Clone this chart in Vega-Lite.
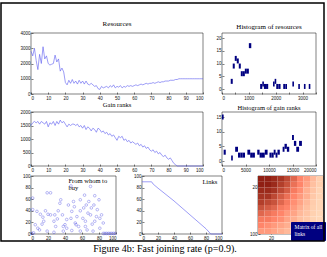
{
"$schema": "https://vega.github.io/schema/vega-lite/v6.json",
"background": "white",
"padding": {"left": 1, "top": 3, "right": 1, "bottom": 2},
"title": {"text": "Figure 4b: Fast joining rate (p=0.9).", "orient": "bottom", "font": "Liberation Serif", "fontSize": 10, "fontWeight": "normal", "color": "#000", "offset": 2, "anchor": "middle"},
"spacing": 0,
"resolve": {"scale": {"stroke": "shared", "shape": "independent"}, "legend": {"stroke": "shared", "shape": "independent"}},
"vconcat": [
 {"columns": 2, "bounds": "flush", "spacing": {"row": 18, "column": 19},
  "resolve": {"scale": {"stroke": "shared"}, "legend": {"stroke": "shared"}},
  "concat": [
   {"width": 172, "height": 61, "title": {"text": "Resources", "offset": 3},
    "data": {"values": [
{"r":0,"v":2800},{"r":1,"v":2500},{"r":2,"v":3000},{"r":3,"v":2200},{"r":4,"v":1600},{"r":5,"v":2600},{"r":6,"v":2000},{"r":7,"v":3100},{"r":8,"v":2300},{"r":9,"v":2500},
{"r":10,"v":2000},{"r":11,"v":1900},{"r":12,"v":1950},{"r":13,"v":2000},{"r":14,"v":2550},{"r":15,"v":2100},{"r":16,"v":2300},{"r":17,"v":1500},{"r":18,"v":1700},{"r":19,"v":1450},
{"r":20,"v":750},{"r":21,"v":600},{"r":22,"v":900},{"r":23,"v":700},{"r":24,"v":950},{"r":25,"v":700},{"r":26,"v":850},{"r":27,"v":650},{"r":28,"v":900},{"r":29,"v":700},
{"r":30,"v":850},{"r":31,"v":650},{"r":32,"v":850},{"r":33,"v":650},{"r":34,"v":600},{"r":35,"v":700},{"r":36,"v":600},{"r":37,"v":500},{"r":38,"v":550},{"r":39,"v":350},
{"r":40,"v":300},{"r":41,"v":500},{"r":42,"v":400},{"r":43,"v":450},{"r":44,"v":500},{"r":45,"v":400},{"r":46,"v":550},{"r":47,"v":450},{"r":48,"v":600},{"r":49,"v":400},
{"r":50,"v":500},{"r":51,"v":450},{"r":52,"v":550},{"r":53,"v":400},{"r":54,"v":500},{"r":55,"v":450},{"r":56,"v":550},{"r":57,"v":500},{"r":58,"v":550},{"r":59,"v":500},
{"r":60,"v":550},{"r":61,"v":600},{"r":62,"v":550},{"r":63,"v":600},{"r":64,"v":650},{"r":65,"v":600},{"r":66,"v":650},{"r":67,"v":700},{"r":68,"v":650},{"r":69,"v":700},
{"r":70,"v":700},{"r":71,"v":750},{"r":72,"v":700},{"r":73,"v":750},{"r":74,"v":800},{"r":75,"v":750},{"r":76,"v":800},{"r":77,"v":800},{"r":78,"v":850},{"r":79,"v":850},
{"r":80,"v":850},{"r":81,"v":900},{"r":82,"v":900},{"r":83,"v":900},{"r":84,"v":950},{"r":85,"v":950},{"r":86,"v":1000},{"r":87,"v":1000},{"r":88,"v":1000},{"r":89,"v":1000},
{"r":90,"v":1000},{"r":91,"v":1000},{"r":92,"v":1000},{"r":93,"v":1000},{"r":94,"v":1000},{"r":95,"v":1000},{"r":96,"v":1000},{"r":97,"v":1000},{"r":98,"v":1000},{"r":99,"v":1000},{"r":100,"v":1000}
    ]},
    "encoding": {
     "x": {"field": "r", "type": "quantitative", "title": null, "scale": {"domain": [0, 100], "nice": false}, "axis": {"values": [0,10,20,30,40,50,60,70,80,90,100]}},
     "y": {"field": "v", "type": "quantitative", "title": null, "scale": {"domain": [0, 4000], "nice": false}, "axis": {"values": [0,1000,2000,3000,4000], "format": "d"}}
    },
    "layer": [
     {"mark": {"type": "line", "color": "#5a5af0", "strokeWidth": 0.6}},
     {"mark": {"type": "point", "opacity": 0},
      "encoding": {"stroke": {"field": "v", "type": "quantitative", "scale": {"range": ["rgba(0,0,0,0)", "rgba(0,0,0,0)"]},
       "legend": {"title": null, "orient": "none", "legendX": -30, "legendY": -30, "direction": "vertical", "labels": false, "labelOpacity": 0, "labelFontSize": 1, "ticks": false, "padding": 0, "gradientLength": 238, "gradientThickness": 323, "gradientStrokeColor": "#000", "gradientStrokeWidth": 1.5}}}}
    ]
   },
   {"width": 94, "height": 61, "title": {"text": "Histogram of resources", "offset": 3},
    "data": {"values": [
{"a":325,"b":400,"n":3},{"a":400,"b":475,"n":9},{"a":475,"b":550,"n":12},{"a":550,"b":625,"n":11},{"a":625,"b":700,"n":9},{"a":700,"b":775,"n":6},{"a":775,"b":850,"n":6},{"a":850,"b":925,"n":7},{"a":925,"b":1000,"n":7},{"a":1000,"b":1090,"n":17},
{"a":1420,"b":1500,"n":1},{"a":1500,"b":1560,"n":2},{"a":1560,"b":1640,"n":1},{"a":1640,"b":1720,"n":1},{"a":1900,"b":1960,"n":2},{"a":1960,"b":2020,"n":3},{"a":2020,"b":2100,"n":1},{"a":2100,"b":2180,"n":1},{"a":2280,"b":2360,"n":1},{"a":2360,"b":2420,"n":1},{"a":2620,"b":2680,"n":2},{"a":2840,"b":2900,"n":1},{"a":3050,"b":3110,"n":1},{"a":3230,"b":3290,"n":1}
    ]},
    "mark": {"type": "bar", "color": "#000080"},
    "encoding": {
     "x": {"field": "a", "type": "quantitative", "title": null, "scale": {"domain": [0, 3500], "nice": false}, "axis": {"values": [0,500,1000,1500,2000,2500,3000,3500], "format": "d"}},
     "x2": {"field": "b"},
     "y": {"field": "n", "type": "quantitative", "title": null, "scale": {"domain": [0, 20], "nice": false}, "axis": {"values": [0,5,10,15,20]}}
    }
   },
   {"width": 172, "height": 54, "title": {"text": "Gain ranks", "offset": 1, "fontSize": 6.5},
    "data": {"values": [
{"r":0,"v":1500},{"r":1,"v":1600},{"r":2,"v":1650},{"r":3,"v":1600},{"r":4,"v":1650},{"r":5,"v":1550},{"r":6,"v":1650},{"r":7,"v":1600},{"r":8,"v":1550},{"r":9,"v":1650},
{"r":10,"v":1450},{"r":11,"v":1600},{"r":12,"v":1550},{"r":13,"v":1650},{"r":14,"v":1500},{"r":15,"v":1650},{"r":16,"v":1550},{"r":17,"v":1700},{"r":18,"v":1600},{"r":19,"v":1650},
{"r":20,"v":1550},{"r":21,"v":1450},{"r":22,"v":1550},{"r":23,"v":1500},{"r":24,"v":1550},{"r":25,"v":1550},{"r":26,"v":1500},{"r":27,"v":1550},{"r":28,"v":1450},{"r":29,"v":1500},
{"r":30,"v":1400},{"r":31,"v":1500},{"r":32,"v":1350},{"r":33,"v":1450},{"r":34,"v":1400},{"r":35,"v":1300},{"r":36,"v":1400},{"r":37,"v":1350},{"r":38,"v":1250},{"r":39,"v":1400},
{"r":40,"v":1350},{"r":41,"v":1250},{"r":42,"v":1300},{"r":43,"v":1200},{"r":44,"v":1250},{"r":45,"v":1150},{"r":46,"v":1200},{"r":47,"v":1100},{"r":48,"v":1150},{"r":49,"v":1050},
{"r":50,"v":950},{"r":51,"v":1100},{"r":52,"v":1050},{"r":53,"v":1100},{"r":54,"v":950},{"r":55,"v":1000},{"r":56,"v":900},{"r":57,"v":950},{"r":58,"v":850},{"r":59,"v":900},
{"r":60,"v":850},{"r":61,"v":800},{"r":62,"v":850},{"r":63,"v":750},{"r":64,"v":800},{"r":65,"v":700},{"r":66,"v":750},{"r":67,"v":650},{"r":68,"v":700},{"r":69,"v":600},
{"r":70,"v":550},{"r":71,"v":600},{"r":72,"v":500},{"r":73,"v":550},{"r":74,"v":450},{"r":75,"v":500},{"r":76,"v":400},{"r":77,"v":350},{"r":78,"v":400},{"r":79,"v":300},
{"r":80,"v":250},{"r":81,"v":300},{"r":82,"v":200},{"r":83,"v":100},{"r":84,"v":50},{"r":85,"v":0},{"r":86,"v":0},{"r":87,"v":0},{"r":88,"v":0},{"r":89,"v":0},
{"r":90,"v":0},{"r":91,"v":0},{"r":92,"v":0},{"r":93,"v":0},{"r":94,"v":0},{"r":95,"v":0},{"r":96,"v":0},{"r":97,"v":0},{"r":98,"v":0},{"r":99,"v":0},{"r":100,"v":0}
    ]},
    "mark": {"type": "line", "color": "#5a5af0", "strokeWidth": 0.6},
    "encoding": {
     "x": {"field": "r", "type": "quantitative", "title": null, "scale": {"domain": [0, 100], "nice": false}, "axis": {"values": [0,10,20,30,40,50,60,70,80,90,100]}},
     "y": {"field": "v", "type": "quantitative", "title": null, "scale": {"domain": [0, 2000], "nice": false}, "axis": {"values": [0,500,1000,1500,2000], "format": "d"}}
    }
   },
   {"width": 94, "height": 54, "title": {"text": "Histogram of gain ranks", "offset": 1, "fontSize": 6.5},
    "data": {"values": [
{"a":0,"b":350,"n":15},{"a":350,"b":800,"n":3},{"a":1950,"b":2300,"n":1},{"a":2800,"b":3400,"n":4},{"a":3400,"b":3900,"n":2},{"a":3900,"b":4400,"n":2},{"a":4400,"b":4900,"n":2},
{"a":5400,"b":6000,"n":3},{"a":6000,"b":6400,"n":2},{"a":6400,"b":7000,"n":2},{"a":7500,"b":8000,"n":3},{"a":8000,"b":8500,"n":2},{"a":8500,"b":9100,"n":2},{"a":9100,"b":9700,"n":3},
{"a":10100,"b":10500,"n":2},{"a":10500,"b":11000,"n":2},{"a":11000,"b":11400,"n":3},{"a":11400,"b":11800,"n":2},{"a":11800,"b":12300,"n":3},{"a":12900,"b":13300,"n":4},{"a":13300,"b":13800,"n":5},
{"a":13800,"b":14300,"n":4},{"a":14900,"b":15300,"n":8},{"a":15300,"b":15800,"n":6},{"a":15800,"b":16400,"n":4},{"a":16400,"b":17000,"n":6}
    ]},
    "mark": {"type": "bar", "color": "#000080"},
    "encoding": {
     "x": {"field": "a", "type": "quantitative", "title": null, "scale": {"domain": [0, 20000], "nice": false}, "axis": {"values": [0,5000,10000,15000,20000], "format": "d"}},
     "x2": {"field": "b"},
     "y": {"field": "n", "type": "quantitative", "title": null, "scale": {"domain": [0, 15], "nice": false}, "axis": {"values": [0,5,10,15]}}
    }
   }
  ]
 },
 {"spacing": 25,
  "resolve": {"scale": {"shape": "independent"}, "legend": {"shape": "independent"}},
  "hconcat": [
  {"bounds": "flush", "spacing": 26, "hconcat": [
   {"width": 85, "height": 58,
    "title": {"text": ["From whom to", "buy"], "anchor": "start", "align": "left", "dx": 46, "offset": -18, "fontSize": 6.5, "lineHeight": 7},
    "data": {"values": [
{"x":2,"y":42},{"x":2,"y":62},{"x":7,"y":39},{"x":11,"y":34},{"x":14,"y":29},{"x":17,"y":40},{"x":19,"y":71},{"x":23,"y":71},{"x":20,"y":34},{"x":5,"y":16},
{"x":8,"y":10},{"x":10,"y":7},{"x":13,"y":17},{"x":15,"y":22},{"x":3,"y":2},{"x":1,"y":1},{"x":27,"y":22},{"x":28,"y":33},{"x":31,"y":26},{"x":32,"y":40},
{"x":34,"y":53},{"x":35,"y":59},{"x":37,"y":33},{"x":38,"y":13},{"x":40,"y":16},{"x":42,"y":25},{"x":44,"y":50},{"x":47,"y":27},{"x":47,"y":83},{"x":48,"y":39},
{"x":50,"y":56},{"x":51,"y":47},{"x":52,"y":19},{"x":53,"y":16},{"x":56,"y":13},{"x":58,"y":59},{"x":58,"y":40},{"x":61,"y":27},{"x":62,"y":45},{"x":63,"y":67},
{"x":64,"y":22},{"x":65,"y":50},{"x":67,"y":36},{"x":68,"y":56},{"x":70,"y":82},{"x":70,"y":33},{"x":71,"y":45},{"x":72,"y":17},{"x":74,"y":50},{"x":75,"y":66},
{"x":77,"y":30},{"x":78,"y":42},{"x":80,"y":59},{"x":81,"y":27},{"x":83,"y":33},{"x":85,"y":19},{"x":81,"y":10},{"x":73,"y":5},{"x":66,"y":7},{"x":58,"y":5},
{"x":48,"y":6},{"x":38,"y":5},{"x":27,"y":3},{"x":19,"y":5},{"x":23,"y":33},{"x":29,"y":13},{"x":42,"y":10},{"x":54,"y":30},{"x":64,"y":13},{"x":75,"y":22},
{"x":85,"y":1},{"x":87,"y":1},{"x":89,"y":1},{"x":91,"y":1},{"x":93,"y":1},{"x":95,"y":1},{"x":97,"y":1},{"x":99,"y":1}
    ]},
    "mark": {"type": "point", "shape": "circle", "filled": false, "color": "#3a3ae0", "size": 7, "strokeWidth": 0.5},
    "encoding": {
     "x": {"field": "x", "type": "quantitative", "title": null, "scale": {"domain": [0, 100], "nice": false}, "axis": {"values": [0,20,40,60,80,100]}},
     "y": {"field": "y", "type": "quantitative", "title": null, "scale": {"domain": [0, 100], "nice": false}, "axis": {"values": [0,20,40,60,80,100]}}
    }
   },
   {"width": 80, "height": 58,
    "title": {"text": "Links", "anchor": "end", "dx": -6, "offset": -12, "fontSize": 6.5},
    "data": {"values": [
{"x":0,"y":90},{"x":12,"y":90},{"x":14,"y":86},{"x":20,"y":79},{"x":30,"y":68},{"x":40,"y":57},{"x":50,"y":45},{"x":60,"y":33},{"x":70,"y":21},{"x":80,"y":9},{"x":86,"y":0},{"x":100,"y":0}
    ]},
    "mark": {"type": "line", "color": "#5a5af0", "strokeWidth": 0.6},
    "encoding": {
     "x": {"field": "x", "type": "quantitative", "title": null, "scale": {"domain": [0, 100], "nice": false}, "axis": {"values": [0,20,40,60,80,100]}},
     "y": {"field": "y", "type": "quantitative", "title": null, "scale": {"domain": [0, 100], "nice": false}, "axis": {"values": [0,20,40,60,80,100]}}
    }
   }
  ]},
  {"width": 65, "height": 58,
   "data": {"values": [
{"c":0,"c2":10,"r":0,"r2":10,"d":0.9},{"c":10,"c2":20,"r":0,"r2":10,"d":0.9},{"c":20,"c2":30,"r":0,"r2":10,"d":0.85},{"c":30,"c2":40,"r":0,"r2":10,"d":0.8},{"c":40,"c2":50,"r":0,"r2":10,"d":0.7},{"c":50,"c2":60,"r":0,"r2":10,"d":0.55},{"c":60,"c2":70,"r":0,"r2":10,"d":0.4},{"c":70,"c2":80,"r":0,"r2":10,"d":0.3},{"c":80,"c2":90,"r":0,"r2":10,"d":0.15},{"c":90,"c2":100,"r":0,"r2":10,"d":0.05},
{"c":0,"c2":10,"r":10,"r2":20,"d":0.9},{"c":10,"c2":20,"r":10,"r2":20,"d":0.9},{"c":20,"c2":30,"r":10,"r2":20,"d":0.85},{"c":30,"c2":40,"r":10,"r2":20,"d":0.75},{"c":40,"c2":50,"r":10,"r2":20,"d":0.65},{"c":50,"c2":60,"r":10,"r2":20,"d":0.5},{"c":60,"c2":70,"r":10,"r2":20,"d":0.4},{"c":70,"c2":80,"r":10,"r2":20,"d":0.25},{"c":80,"c2":90,"r":10,"r2":20,"d":0.12},{"c":90,"c2":100,"r":10,"r2":20,"d":0.05},
{"c":0,"c2":10,"r":20,"r2":30,"d":0.85},{"c":10,"c2":20,"r":20,"r2":30,"d":0.85},{"c":20,"c2":30,"r":20,"r2":30,"d":0.8},{"c":30,"c2":40,"r":20,"r2":30,"d":0.7},{"c":40,"c2":50,"r":20,"r2":30,"d":0.6},{"c":50,"c2":60,"r":20,"r2":30,"d":0.45},{"c":60,"c2":70,"r":20,"r2":30,"d":0.35},{"c":70,"c2":80,"r":20,"r2":30,"d":0.2},{"c":80,"c2":90,"r":20,"r2":30,"d":0.1},{"c":90,"c2":100,"r":20,"r2":30,"d":0.03},
{"c":0,"c2":10,"r":30,"r2":40,"d":0.8},{"c":10,"c2":20,"r":30,"r2":40,"d":0.8},{"c":20,"c2":30,"r":30,"r2":40,"d":0.7},{"c":30,"c2":40,"r":30,"r2":40,"d":0.6},{"c":40,"c2":50,"r":30,"r2":40,"d":0.5},{"c":50,"c2":60,"r":30,"r2":40,"d":0.4},{"c":60,"c2":70,"r":30,"r2":40,"d":0.3},{"c":70,"c2":80,"r":30,"r2":40,"d":0.2},{"c":80,"c2":90,"r":30,"r2":40,"d":0.08},{"c":90,"c2":100,"r":30,"r2":40,"d":0.03},
{"c":0,"c2":10,"r":40,"r2":50,"d":0.75},{"c":10,"c2":20,"r":40,"r2":50,"d":0.7},{"c":20,"c2":30,"r":40,"r2":50,"d":0.65},{"c":30,"c2":40,"r":40,"r2":50,"d":0.55},{"c":40,"c2":50,"r":40,"r2":50,"d":0.45},{"c":50,"c2":60,"r":40,"r2":50,"d":0.35},{"c":60,"c2":70,"r":40,"r2":50,"d":0.25},{"c":70,"c2":80,"r":40,"r2":50,"d":0.15},{"c":80,"c2":90,"r":40,"r2":50,"d":0.06},{"c":90,"c2":100,"r":40,"r2":50,"d":0.02},
{"c":0,"c2":10,"r":50,"r2":60,"d":0.65},{"c":10,"c2":20,"r":50,"r2":60,"d":0.6},{"c":20,"c2":30,"r":50,"r2":60,"d":0.55},{"c":30,"c2":40,"r":50,"r2":60,"d":0.45},{"c":40,"c2":50,"r":50,"r2":60,"d":0.4},{"c":50,"c2":60,"r":50,"r2":60,"d":0.3},{"c":60,"c2":70,"r":50,"r2":60,"d":0.2},{"c":70,"c2":80,"r":50,"r2":60,"d":0.12},{"c":80,"c2":90,"r":50,"r2":60,"d":0.05},{"c":90,"c2":100,"r":50,"r2":60,"d":0.02},
{"c":0,"c2":10,"r":60,"r2":70,"d":0.55},{"c":10,"c2":20,"r":60,"r2":70,"d":0.5},{"c":20,"c2":30,"r":60,"r2":70,"d":0.45},{"c":30,"c2":40,"r":60,"r2":70,"d":0.4},{"c":40,"c2":50,"r":60,"r2":70,"d":0.3},{"c":50,"c2":60,"r":60,"r2":70,"d":0.25},{"c":60,"c2":70,"r":60,"r2":70,"d":0.15},{"c":70,"c2":80,"r":60,"r2":70,"d":0.1},{"c":80,"c2":90,"r":60,"r2":70,"d":0.04},{"c":90,"c2":100,"r":60,"r2":70,"d":0.01},
{"c":0,"c2":10,"r":70,"r2":80,"d":0.45},{"c":10,"c2":20,"r":70,"r2":80,"d":0.45},{"c":20,"c2":30,"r":70,"r2":80,"d":0.4},{"c":30,"c2":40,"r":70,"r2":80,"d":0.35},{"c":40,"c2":50,"r":70,"r2":80,"d":0.25},{"c":50,"c2":60,"r":70,"r2":80,"d":0.2},{"c":60,"c2":70,"r":70,"r2":80,"d":0.12},{"c":70,"c2":80,"r":70,"r2":80,"d":0.08},{"c":80,"c2":90,"r":70,"r2":80,"d":0.03},{"c":90,"c2":100,"r":70,"r2":80,"d":0.01},
{"c":0,"c2":10,"r":80,"r2":90,"d":0.4},{"c":10,"c2":20,"r":80,"r2":90,"d":0.35},{"c":20,"c2":30,"r":80,"r2":90,"d":0.3},{"c":30,"c2":40,"r":80,"r2":90,"d":0.25},{"c":40,"c2":50,"r":80,"r2":90,"d":0.2},{"c":50,"c2":60,"r":80,"r2":90,"d":0.15},{"c":60,"c2":70,"r":80,"r2":90,"d":0.1},{"c":70,"c2":80,"r":80,"r2":90,"d":0.06},{"c":80,"c2":90,"r":80,"r2":90,"d":0.02},{"c":90,"c2":100,"r":80,"r2":90,"d":0},
{"c":0,"c2":10,"r":90,"r2":100,"d":0.3},{"c":10,"c2":20,"r":90,"r2":100,"d":0.3},{"c":20,"c2":30,"r":90,"r2":100,"d":0.25},{"c":30,"c2":40,"r":90,"r2":100,"d":0.2},{"c":40,"c2":50,"r":90,"r2":100,"d":0.15},{"c":50,"c2":60,"r":90,"r2":100,"d":0.1},{"c":60,"c2":70,"r":90,"r2":100,"d":0.08},{"c":70,"c2":80,"r":90,"r2":100,"d":0.04},{"c":80,"c2":90,"r":90,"r2":100,"d":0.01},{"c":90,"c2":100,"r":90,"r2":100,"d":0}
   ]},
   "layer": [
    {"mark": {"type": "rect"},
     "encoding": {
      "x": {"field": "c", "type": "quantitative", "title": null, "scale": {"domain": [0, 100], "nice": false}, "axis": {"values": [20,40,60,80,100]}},
      "x2": {"field": "c2"},
      "y": {"field": "r", "type": "quantitative", "title": null, "scale": {"domain": [0, 100], "nice": false, "reverse": true}, "axis": {"values": [20,40,60,80,100]}},
      "y2": {"field": "r2"},
      "color": {"field": "d", "type": "quantitative", "scale": {"domain": [0, 1], "range": ["#ffffff", "#7a0000"]}, "legend": null}
     }
    },
    {"mark": {"type": "point", "opacity": 0},
     "encoding": {
      "x": {"field": "c", "type": "quantitative"},
      "y": {"field": "r", "type": "quantitative"},
      "shape": {"datum": "Matrix of all links", "legend": {"title": null, "orient": "none", "legendX": 33, "legendY": 46, "fillColor": "#000080", "strokeColor": "#000080", "padding": 2, "symbolOpacity": 0, "symbolSize": 0, "symbolStrokeWidth": 0, "labelColor": "#ffffff", "labelFont": "Liberation Serif", "labelFontSize": 5.5, "labelExpr": "['Matrix of all', 'links']", "labelOffset": -4}}
     }
    }
   ]
  }
 ]}
],
"config": {
 "view": {"stroke": "#000", "strokeWidth": 0.5},
 "axis": {"domain": false, "grid": false, "ticks": true, "tickSize": -2, "tickWidth": 0.5, "tickColor": "#000", "labelFont": "Liberation Sans", "labelFontSize": 4.5, "labelColor": "#111", "labelPadding": 3},
 "title": {"font": "Liberation Serif", "fontSize": 7, "fontWeight": "normal", "color": "#000", "offset": 3}
}
}
